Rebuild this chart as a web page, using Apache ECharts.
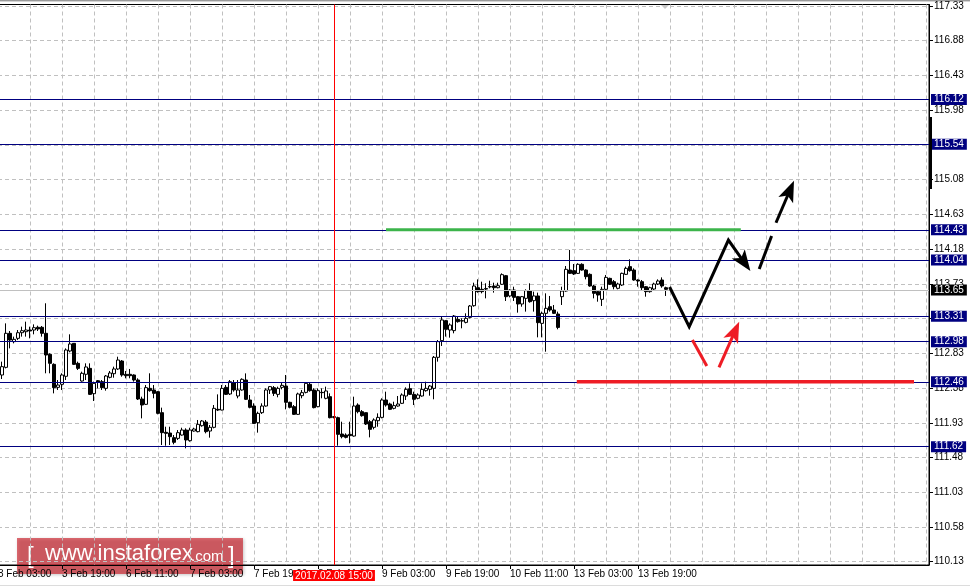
<!DOCTYPE html>
<html><head><meta charset="utf-8">
<script src="https://cdn.jsdelivr.net/npm/echarts@6/dist/echarts.min.js"></script>
<style>html,body{margin:0;padding:0;background:#fff;overflow:hidden}#c{width:970px;height:588px}</style>
</head><body><div id="c"></div>
<script>
// Hourly candles [open, close, low, high], first bar = 3 Feb 04:00 (x index 1; x index 0 = 3 Feb 03:00)
const candles = [
[112.549,112.657,112.497,112.722],[112.648,113.089,112.635,113.218],[113.089,113.002,112.894,113.119],[112.981,113.011,112.959,113.046],
[113.024,113.097,113.002,113.132],[113.097,113.123,113.046,113.175],[113.110,113.132,113.046,113.240],[113.132,113.119,113.024,113.175],
[113.132,113.162,113.076,113.205],[113.167,113.145,113.119,113.188],[113.167,113.089,113.046,113.184],[113.089,112.808,112.571,113.478],
[112.817,112.700,112.571,112.830],[112.687,112.385,112.311,112.700],[112.389,112.419,112.355,112.484],[112.428,112.549,112.355,112.571],
[112.532,112.873,112.484,112.894],[112.860,112.951,112.843,113.076],[112.959,112.687,112.679,112.959],[112.700,112.635,112.614,112.722],
[112.471,112.571,112.463,112.592],[112.558,112.653,112.484,112.700],[112.635,112.298,112.290,112.700],[112.307,112.441,112.212,112.463],
[112.475,112.454,112.376,112.484],[112.463,112.385,112.355,112.484],[112.376,112.536,112.346,112.549],[112.519,112.575,112.506,112.601],
[112.566,112.627,112.514,112.657],[112.627,112.743,112.614,112.786],[112.730,112.549,112.527,112.743],[112.558,112.540,112.506,112.601],
[112.558,112.540,112.506,112.627],[112.549,112.484,112.463,112.558],[112.484,112.238,112.225,112.506],[112.238,112.160,111.987,112.268],
[112.169,112.385,112.160,112.419],[112.376,112.346,112.333,112.571],[112.355,112.311,112.247,112.419],[112.333,112.052,112.039,112.342],
[112.061,111.802,111.642,112.126],[111.806,111.793,111.633,111.879],[111.797,111.750,111.642,111.879],[111.737,111.677,111.651,111.771],
[111.728,111.802,111.707,111.836],[111.771,111.836,111.763,111.866],[111.836,111.707,111.599,111.858],[111.698,111.836,111.685,111.866],
[111.823,111.849,111.815,111.866],[111.815,111.910,111.806,111.966],[111.892,111.953,111.879,111.966],[111.940,111.815,111.793,111.966],
[111.823,111.871,111.737,111.901],[111.871,112.117,111.858,112.160],[112.104,112.095,112.082,112.298],[112.095,112.376,112.091,112.419],
[112.389,112.298,112.290,112.419],[112.303,112.462,112.290,112.484],[112.450,112.355,112.333,112.484],[112.277,112.355,112.247,112.484],
[112.355,112.493,112.346,112.506],[112.484,112.234,112.225,112.570],[112.225,112.130,112.117,112.290],[112.147,111.922,111.914,112.182],
[111.931,112.052,111.802,112.074],[112.061,112.147,112.044,112.182],[112.147,112.355,112.139,112.376],[112.355,112.398,112.303,112.406],
[112.385,112.311,112.277,112.406],[112.298,112.376,112.260,112.398],[112.389,112.415,112.363,112.450],[112.406,112.195,112.104,112.549],
[112.195,112.130,112.117,112.203],[112.139,112.039,112.031,112.160],[112.039,112.303,112.031,112.320],[112.281,112.320,112.247,112.355],
[112.324,112.441,112.311,112.450],[112.428,112.346,112.333,112.450],[112.355,112.126,112.117,112.376],[112.139,112.346,112.130,112.376],
[112.324,112.320,112.247,112.376],[112.247,112.342,112.234,112.398],[112.268,111.996,111.987,112.311],[112.009,112.000,111.987,112.017],
[111.996,111.780,111.633,112.009],[111.784,111.750,111.728,111.944],[111.771,111.741,111.728,111.793],[111.780,111.763,111.664,111.944],
[111.758,112.147,111.750,112.268],[112.160,112.074,112.052,112.182],[112.074,112.022,112.009,112.095],[112.061,111.914,111.901,112.061],
[111.944,111.845,111.741,111.966],[111.871,111.966,111.845,111.987],[111.957,112.000,111.879,112.052],[112.000,112.225,111.987,112.247],
[112.225,112.160,112.139,112.333],[112.173,112.104,112.095,112.190],[112.117,112.152,112.104,112.203],[112.147,112.173,112.139,112.277],
[112.182,112.290,112.173,112.311],[112.277,112.363,112.225,112.389],[112.372,112.298,112.290,112.441],[112.298,112.234,112.160,112.333],
[112.247,112.290,112.234,112.311],[112.277,112.363,112.268,112.441],[112.346,112.376,112.333,112.462],[112.363,112.406,112.281,112.419],
[112.376,112.778,112.234,112.795],[112.778,112.981,112.722,113.002],[112.994,113.262,112.925,113.305],[113.253,113.141,113.046,113.262],
[113.132,113.197,113.033,113.218],[113.124,113.313,113.089,113.326],[113.270,113.240,113.227,113.305],[113.253,113.248,113.154,113.283],
[113.231,113.283,113.218,113.348],[113.296,113.443,113.283,113.456],[113.447,113.702,113.434,113.745],[113.680,113.629,113.616,113.788],
[113.659,113.629,113.607,113.758],[113.668,113.663,113.542,113.737],[113.690,113.695,113.672,113.771],[113.702,113.680,113.616,113.745],
[113.680,113.706,113.672,113.745],[113.724,113.849,113.715,113.866],[113.836,113.564,113.508,113.845],[113.573,113.650,113.555,113.659],
[113.650,113.555,113.508,113.693],[113.564,113.469,113.357,113.573],[113.469,113.564,113.434,113.573],[113.542,113.642,113.370,113.659],
[113.642,113.499,113.486,113.737],[113.512,113.573,113.370,113.629],[113.573,113.227,113.037,113.616],[113.218,113.348,113.037,113.370],
[113.348,113.413,112.851,113.607],[113.434,113.391,113.370,113.573],[113.391,113.348,113.339,113.456],[113.339,113.166,113.141,113.370],
[113.564,113.637,113.456,113.693],[113.637,113.918,113.629,113.961],[113.909,113.866,113.858,114.169],[113.901,113.858,113.845,113.987],
[113.866,113.983,113.858,113.996],[113.983,113.909,113.901,113.996],[113.909,113.823,113.788,113.918],[113.853,113.702,113.693,113.866],
[113.702,113.607,113.542,113.715],[113.629,113.585,113.499,113.650],[113.529,113.659,113.443,113.693],[113.659,113.814,113.650,113.845],
[113.801,113.724,113.715,113.810],[113.758,113.693,113.659,113.780],[113.672,113.728,113.659,113.745],[113.715,113.866,113.702,113.875],
[113.853,113.931,113.845,113.953],[113.953,113.901,113.888,114.048],[113.909,113.780,113.771,113.931],[113.780,113.767,113.693,113.788],
[113.758,113.680,113.650,113.780],[113.693,113.629,113.564,113.702],[113.629,113.680,113.616,113.693],[113.663,113.728,113.650,113.745],
[113.728,113.767,113.715,113.788],[113.780,113.702,113.680,113.814],[113.680,113.659,113.573,113.693]
];
// time-axis tick labels, one every 16 hourly bars starting at x index 0
const xTickLabels = ['3 Feb 03:00','3 Feb 19:00','6 Feb 11:00','7 Feb 03:00','7 Feb 19:00','8 Feb 11:00','9 Feb 03:00','9 Feb 19:00','10 Feb 11:00','13 Feb 03:00','13 Feb 19:00'];
const yTicks = [110.13,110.58,111.03,111.48,111.93,112.38,112.83,113.28,113.73,114.18,114.63,115.08,115.53,115.98,116.43,116.88,117.33];
const levels = [116.12,115.54,114.43,114.04,113.31,112.98,112.46,111.62];
const currentPrice = 113.65;
const markerIndex = 83;             // candle index of the marked bar
const markerLabel = '2017.02.08 15:00';
// forecast drawings in [x index, price]
const greenLine = [[97,114.43],[185.7,114.43]];
const redLine = [[144.7,112.46],[229,112.46]];
const blackPath = [[167.9,113.689],[172.8,113.175],[182.6,114.298],[188.1,113.896]];
const blackDash1 = [[190.3,113.922],[193.4,114.35]];
const blackDash2 = [[194.5,114.522],[199,115.066]];
const redPath1 = [[173.6,113.002],[177.2,112.666]];
const redPath2 = [[180.25,112.649],[185.3,113.24]];

const FONT = 'Liberation Sans';
const candleData = candles.map((c, i) => [i + 1, c[0], c[1], c[2], c[3]]);
const xTickVals = xTickLabels.map((_, i) => i * 16);
const drawings = [
  {pts: greenLine, color: '#3cb44b', width: 3, arrow: false},
  {pts: redLine, color: '#ee1c25', width: 3.5, arrow: false},
  {pts: blackPath, color: '#000', width: 3, arrow: true},
  {pts: blackDash1, color: '#000', width: 3, arrow: false},
  {pts: blackDash2, color: '#000', width: 3, arrow: true},
  {pts: redPath1, color: '#ee1c25', width: 3, arrow: false},
  {pts: redPath2, color: '#ee1c25', width: 3, arrow: true}
];
const gridLine = {color: '#c0c0c0', type: [4, 3], width: 1};

const chart = echarts.init(document.getElementById('c'), null, {renderer: 'canvas'});
const levelMarks = levels.map(v => ({
  yAxis: v,
  lineStyle: {color: '#000080', width: 1, type: 'solid'},
  label: {show: true, position: 'end', distance: 2, formatter: () => v.toFixed(2), color: '#fff',
    backgroundColor: '#000080', padding: [1, 3, 0, 3], lineHeight: 10, fontSize: 10, fontFamily: FONT}
}));
levelMarks.push({
  yAxis: currentPrice,
  lineStyle: {color: '#c0c0c0', width: 1, type: 'solid'},
  label: {show: true, position: 'end', distance: 2, formatter: () => currentPrice.toFixed(2), color: '#fff',
    backgroundColor: '#000', padding: [1, 3, 0, 3], lineHeight: 10, fontSize: 10, fontFamily: FONT}
});
levelMarks.push({
  xAxis: markerIndex + 1,
  lineStyle: {color: '#ff0000', width: 1, type: 'solid'},
  label: {show: true, position: 'start', distance: 5, formatter: () => markerLabel, color: '#fff',
    backgroundColor: '#ff0000', padding: [1, 2, 0, 2], lineHeight: 10, fontSize: 10, fontFamily: FONT}
});

chart.setOption({
  animation: false,
  backgroundColor: '#fff',
  textStyle: {fontFamily: FONT},
  grid: {left: -2, top: 4.5, width: 931, bottom: 23, containLabel: false, outerBoundsMode: 'none',
    show: true, borderColor: '#000', borderWidth: 1, backgroundColor: 'transparent'},
  xAxis: [
    {type: 'value', min: 0, max: 232.75, interval: 8, position: 'bottom',
      axisLine: {show: true, onZero: false, lineStyle: {color: '#000', width: 1}},
      axisTick: {show: false}, axisLabel: {show: false},
      splitLine: {show: true, lineStyle: gridLine}},
    {type: 'value', min: 0, max: 232.75, interval: 16, position: 'bottom', offset: 0,
      axisLine: {show: false},
      axisTick: {show: true, length: 4, customValues: xTickVals, lineStyle: {color: '#000'}},
      axisLabel: {show: true, customValues: xTickVals, align: 'left', margin: 4, color: '#000', fontSize: 10, fontFamily: FONT,
        showMinLabel: true, showMaxLabel: true,
        formatter: v => xTickLabels[Math.round(v / 16)] || ''},
      splitLine: {show: false}}
  ],
  yAxis: {type: 'value', position: 'right', min: 110.0872, max: 117.3494,
    axisLine: {show: true, onZero: false, lineStyle: {color: '#000', width: 1}},
    axisTick: {show: true, length: 4, customValues: yTicks, lineStyle: {color: '#000'}},
    axisLabel: {show: true, customValues: yTicks, margin: 5, color: '#000', fontSize: 10, fontFamily: FONT,
      showMinLabel: true, showMaxLabel: true, formatter: v => v.toFixed(2)},
    splitLine: {show: true, lineStyle: gridLine}},
  series: [
    {type: 'candlestick', xAxisIndex: 0, data: candleData, encode: {x: 0, y: [1, 2, 3, 4]},
      barWidth: 3, clip: false,
      itemStyle: {color: '#fff', color0: '#000', borderColor: '#000', borderColor0: '#000', borderWidth: 1},
      markLine: {silent: true, symbol: ['none', 'none'], animation: false, data: levelMarks}},
    {type: 'custom', xAxisIndex: 0, clip: false, silent: true, z: 5,
      data: drawings.map((d, i) => [d.pts[0][0], d.pts[0][1], i]),
      encode: {x: 0, y: 1},
      renderItem: (params, api) => {
        const d = drawings[params.dataIndex];
        const p = d.pts.map(q => api.coord(q));
        const line = p.map(q => q.slice());
        const children = [];
        if (d.arrow) {
          const n = p.length, tip = p[n - 1], prev = p[n - 2];
          const dx = tip[0] - prev[0], dy = tip[1] - prev[1], L = Math.hypot(dx, dy);
          const ux = dx / L, uy = dy / L, HL = 21, HW = 8;
          const bx = tip[0] - ux * HL, by = tip[1] - uy * HL;
          line[n - 1] = [tip[0] - ux * (HL - 6), tip[1] - uy * (HL - 6)];
          children.push({type: 'polygon', shape: {points: [tip, [bx - uy * HW, by + ux * HW], [bx + ux * 5, by + uy * 5], [bx + uy * HW, by - ux * HW]]},
            style: {fill: d.color}});
        }
        children.push({type: 'polyline', shape: {points: line},
          style: {stroke: d.color, lineWidth: d.width, fill: null, lineJoin: 'miter', lineCap: 'butt'}});
        return {type: 'group', children};
      }}
  ],
  graphic: [
    {type: 'rect', shape: {x: 0, y: 0, width: 970, height: 1}, style: {fill: '#9a9a9a'}, silent: true},
    {type: 'rect', shape: {x: 0, y: 1, width: 970, height: 1}, style: {fill: '#d4d4d4'}, silent: true},
    {type: 'rect', shape: {x: 0, y: 585, width: 970, height: 1}, style: {fill: '#dcdcdc'}, silent: true},
    {type: 'rect', shape: {x: 929, y: 117, width: 3, height: 72}, style: {fill: '#000'}, silent: true, z: 10},
    {type: 'polygon', shape: {points: [[661, 5], [669, 5], [665, 9]]}, style: {fill: '#c8c8c8'}, silent: true, z: 10},
    {type: 'group', z: 100, silent: true, children: [
      {type: 'rect', shape: {x: 17, y: 538, width: 226, height: 36}, style: {fill: 'rgba(204,20,30,0.62)', shadowBlur: 3, shadowColor: 'rgba(0,0,0,0.35)', shadowOffsetX: 1, shadowOffsetY: 1}},
      {type: 'text', x: 27, y: 556, style: {text: '[', fill: '#fff', font: '24px "Liberation Sans"', verticalAlign: 'middle'}},
      {type: 'text', x: 45, y: 554, style: {text: 'www.instaforex', fill: '#fff', font: '22px "Liberation Sans"', verticalAlign: 'middle'}},
      {type: 'text', x: 191, y: 557, style: {text: '.com', fill: '#fff', font: '15px "Liberation Sans"', verticalAlign: 'middle'}},
      {type: 'text', x: 228, y: 556, style: {text: ']', fill: '#fff', font: '24px "Liberation Sans"', verticalAlign: 'middle'}}
    ]}
  ]
});
</script></body></html>
